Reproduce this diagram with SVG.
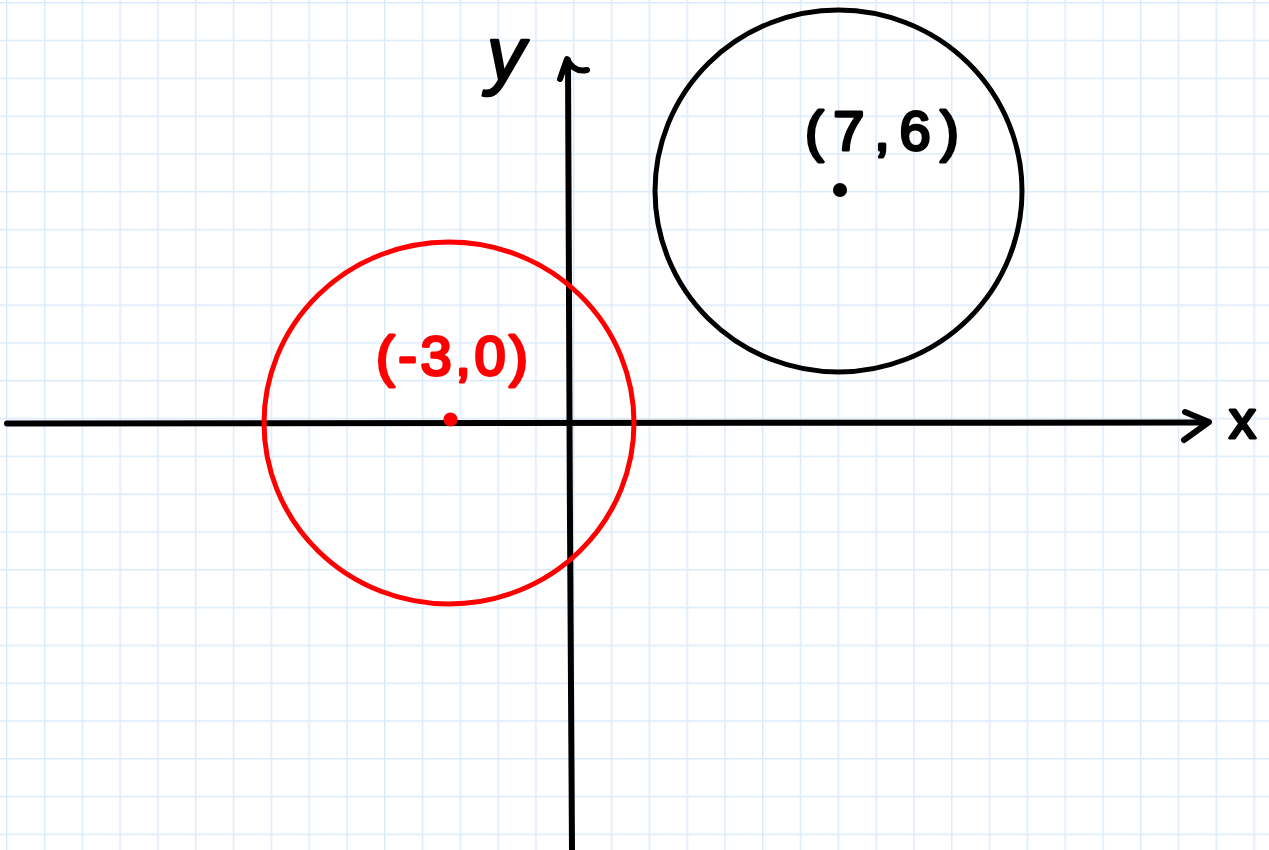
<svg xmlns="http://www.w3.org/2000/svg" width="1269" height="850" viewBox="0 0 1269 850">
  <defs>
    <pattern id="grid" x="6" y="2" width="37.8" height="37.8" patternUnits="userSpaceOnUse">
      <path d="M0 0 V37.8 M0 0 H37.8" fill="none" stroke="#dcebfc" stroke-width="3"/>
    </pattern>
    <style>
      .axis { fill: none; stroke: #000; stroke-width: 6; stroke-linecap: round; stroke-linejoin: round; }
      .hand { font-family: "Liberation Sans", "DejaVu Sans", sans-serif; }
      .lbl { font-size: 56px; stroke-width: 3; stroke-linejoin: round; }
    </style>
  </defs>
  <rect width="1269" height="850" fill="#fff"/>
  <rect width="1269" height="850" fill="url(#grid)"/>

  <g id="axes">
    <path class="axis" d="M7 423.5 C300 424 700 423 1205 422.5"/>
    <path class="axis" d="M1185 412 L1209 422 L1184 440"/>
    <path class="axis" d="M568 60 C569 300 570 600 572 850"/>
    <path class="axis" d="M560 79 L567 59 Q574 73 587 70"/>
  </g>

  <g id="axis-labels" class="hand">
    <text x="487" y="80" font-size="76" font-style="italic" fill="#000" stroke="#000" stroke-width="2.5" stroke-linejoin="round">y</text>
    <text x="1229" y="438" font-size="54" fill="#000" stroke="#000" stroke-width="3" stroke-linejoin="round">x</text>
  </g>

  <g id="red-circle">
    <ellipse cx="449" cy="423" rx="185" ry="181" fill="none" stroke="#ff0000" stroke-width="5"/>
    <circle cx="450.5" cy="419.5" r="7" fill="#ff0000"/>
    <text class="hand lbl" x="376" y="375" fill="#ff0000" stroke="#ff0000" textLength="152" lengthAdjust="spacing">(-3,0)</text>
  </g>

  <g id="black-circle">
    <ellipse cx="838.5" cy="191" rx="183.5" ry="181" fill="none" stroke="#000" stroke-width="5"/>
    <circle cx="840" cy="190" r="7" fill="#000"/>
    <text class="hand lbl" x="805" y="150" fill="#000" stroke="#000" textLength="154" lengthAdjust="spacing">(7,6)</text>
  </g>
</svg>
